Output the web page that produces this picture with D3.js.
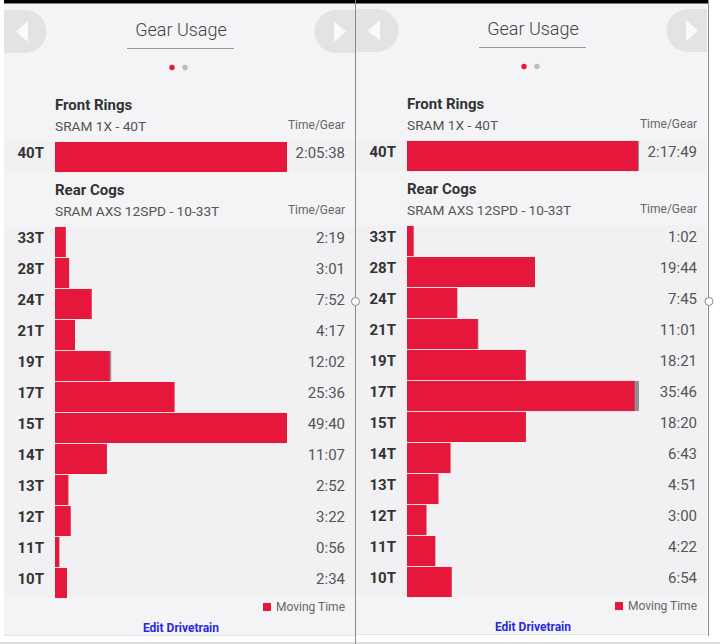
<!DOCTYPE html>
<html>
<head>
<meta charset="utf-8">
<script src="https://d3js.org/d3.v7.min.js"></script>
<style>
  html, body { margin: 0; padding: 0; background: #fff; }
  svg { display: block; font-family: Roboto, sans-serif; }
</style>
</head>
<body>
<svg id="chart" width="720" height="644"></svg>
<script>
// Values
var frontGear = ["40T"];
var rearGears = ["33T", "28T", "24T", "21T", "19T", "17T", "15T", "14T", "13T", "12T", "11T", "10T"];

var leftFront = ["2:05:38"];
var rightFront = ["2:17:49"];
var leftRear = ["2:19", "3:01", "7:52", "4:17", "12:02", "25:36", "49:40", "11:07", "2:52", "3:22", "0:56", "2:34"];
var rightRear = ["1:02", "19:44", "7:45", "11:01", "18:21", "35:46", "18:20", "6:43", "4:51", "3:00", "4:22", "6:54"];

// grey tail on some bars, in seconds (estimated)
var leftFrontGrey = [0];
var rightFrontGrey = [40];
var leftRearGrey = [0, 0, 0, 0, 20, 0, 0, 0, 0, 0, 0, 0];
var rightRearGrey = [0, 0, 0, 8, 5, 40, 0, 0, 0, 0, 0, 0];

var red = "#e5173a";
var svg = d3.select("#chart");

function seconds(t) {
  return t.split(":").reduce((a, b) => a * 60 + (+b), 0);
}

function label(g, x, y, str, size, weight, color, anchor) {
  return g.append("text").attr("x", x).attr("y", y)
    .attr("font-size", size).attr("font-weight", weight)
    .attr("fill", color).attr("text-anchor", anchor || "start").text(str);
}

function bars(g, gears, times, grey, top, maxVal) {
  var y = d3.scaleBand().domain(gears).range([top, top + gears.length * 31]).paddingInner(0.03).paddingOuter(0.015);
  var x = d3.scaleLinear().domain([0, maxVal]).range([55, 287]);
  var rows = gears.map((d, i) => ({ gear: d, time: times[i], grey: grey[i], sec: seconds(times[i]) }));

  g.append("rect").attr("x", 4).attr("y", top).attr("width", 351)
    .attr("height", gears.length * 31 - 0.5).attr("fill", "#f1f1f3");

  g.selectAll(".tail").data(rows).enter().append("rect")
    .attr("x", 55).attr("y", d => y(d.gear))
    .attr("width", d => x(d.sec) - 55).attr("height", y.bandwidth())
    .attr("fill", "#8f8f93")
    .filter(d => d.grey == 0).remove();

  g.selectAll(".bar").data(rows).enter().append("rect")
    .attr("x", 55).attr("y", d => y(d.gear))
    .attr("width", d => x(d.sec - d.grey) - 55).attr("height", y.bandwidth())
    .attr("fill", red);

  rows.forEach(function(d) {
    var cy = y(d.gear) + y.bandwidth() / 2 + 1;
    label(g, 44, cy, d.gear, 15, 700, "#333", "end");
    label(g, 345, cy, d.time, 15, 400, "#555", "end");
  });
}

function panel(dx, dy, frontTimes, frontGrey, rearTimes, rearGrey) {
  var g = svg.append("g").attr("transform", `translate(${dx},${dy})`);

  g.append("rect").attr("x", 4).attr("y", 4).attr("width", 351).attr("height", 631).attr("fill", "#f4f4f6");

  // nav buttons
  g.append("path").attr("d", "M4,10H25A21.5,21.5 0 0 1 25,53H4Z").attr("fill", "#e2e3e5");
  g.append("path").attr("d", "M28,21V42L16,31.5Z").attr("fill", "#fafafa");
  g.append("path").attr("d", "M355,10H336A21.5,21.5 0 0 0 336,53H355Z").attr("fill", "#e2e3e5");
  g.append("path").attr("d", "M334,21V42L346,31.5Z").attr("fill", "#fafafa");

  label(g, 181, 36, "Gear Usage", 18, 300, "#444", "middle");
  g.append("line").attr("x1", 127).attr("x2", 234).attr("y1", 48.5).attr("y2", 48.5).attr("stroke", "#999").attr("stroke-width", 1);

  g.append("circle").attr("cx", 172).attr("cy", 67.5).attr("r", 2.7).attr("fill", red);
  g.append("circle").attr("cx", 185).attr("cy", 67.5).attr("r", 2.7).attr("fill", "#bbb");

  label(g, 55, 110, "Front Rings", 15, 700, "#333");
  label(g, 55, 131, "SRAM 1X - 40T", 13.7, 400, "#555");
  label(g, 345, 129, "Time/Gear", 12, 400, "#666", "end");

  // front and rear share one scale each, both filling the same width
  bars(g, frontGear, frontTimes, frontGrey, 141.5, seconds(frontTimes[0]));

  label(g, 55, 195, "Rear Cogs", 15, 700, "#333");
  label(g, 55, 216, "SRAM AXS 12SPD - 10-33T", 13.7, 400, "#555");
  label(g, 345, 214, "Time/Gear", 12, 400, "#666", "end");

  bars(g, rearGears, rearTimes, rearGrey, 226.5, d3.max(rearTimes, seconds));

  g.append("rect").attr("x", 263).attr("y", 603).attr("width", 8).attr("height", 8).attr("fill", red);
  label(g, 345, 611, "Moving Time", 12, 400, "#666", "end");
  label(g, 181, 632, "Edit Drivetrain", 12, 700, "#2a2ae0", "middle");
  g.append("line").attr("x1", 4).attr("x2", 355).attr("y1", 635.5).attr("y2", 635.5).attr("stroke", "#e4e4e6");
}

panel(0, 0, leftFront, leftFrontGrey, leftRear, leftRearGrey);
panel(352, -1, rightFront, rightFrontGrey, rightRear, rightRearGrey);

// top bar, dividers and slider handles
svg.append("rect").attr("x", 4).attr("y", 0).attr("width", 705).attr("height", 3.5).attr("fill", "#000");
svg.append("line").attr("x1", 355.5).attr("x2", 355.5).attr("y1", 0).attr("y2", 644).attr("stroke", "#8a8a8a");
svg.append("line").attr("x1", 708.5).attr("x2", 708.5).attr("y1", 0).attr("y2", 636).attr("stroke", "#8a8a8a");
svg.append("line").attr("x1", 0).attr("x2", 720).attr("y1", 643).attr("y2", 643).attr("stroke", "#bbb");
[355.5, 709].forEach(function(cx) {
  svg.append("circle").attr("cx", cx).attr("cy", 301.5).attr("r", 4).attr("fill", "#fff").attr("stroke", "#888").attr("stroke-width", 1);
});
</script>
</body>
</html>
